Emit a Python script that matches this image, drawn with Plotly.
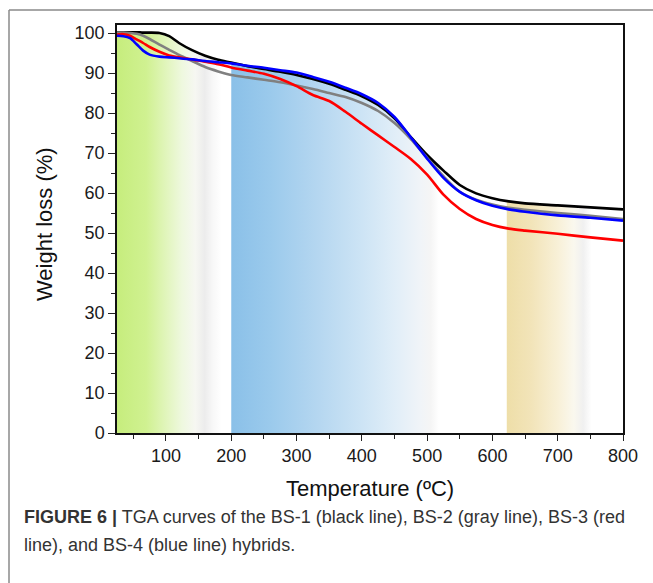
import numpy as np
import plotly.graph_objects as go

# ---------------- data ----------------
temperature = [25, 35, 45, 55, 65, 75, 90, 105, 120, 140, 160, 180, 200, 225, 250,
               275, 300, 325, 350, 375, 400, 425, 450, 475, 500, 525, 550, 575,
               600, 625, 650, 700, 750, 800]

bs1_black = [100.2, 100.2, 100.2, 100.2, 100.1, 100.1, 100.0, 99.2, 97.5, 95.7, 94.3,
             93.3, 92.6, 91.7, 91.0, 90.3, 89.5, 88.5, 87.3, 85.8, 84.2, 82.0, 78.7,
             74.0, 69.5, 65.6, 62.0, 59.9, 58.7, 57.9, 57.4, 56.9, 56.4, 55.9]

bs2_gray = [100.1, 100.1, 100.0, 99.8, 99.3, 98.5, 97.1, 95.8, 94.5, 93.0, 91.5,
            90.4, 89.5, 88.9, 88.3, 87.7, 86.9, 86.0, 85.0, 84.0, 82.5, 80.5, 77.5,
            73.5, 68.8, 64.2, 60.3, 58.3, 57.1, 56.3, 55.8, 55.0, 54.3, 53.5]

bs3_red = [99.6, 99.7, 99.3, 98.4, 97.5, 96.5, 95.3, 94.4, 93.9, 93.4, 92.8,
           92.2, 91.4, 90.6, 89.8, 88.5, 86.7, 84.5, 83.0, 80.3, 77.3, 74.4, 71.5,
           68.5, 64.6, 59.6, 56.0, 53.5, 52.0, 51.1, 50.6, 49.8, 48.9, 48.1]

bs4_blue = [99.3, 99.2, 98.7, 97.2, 95.6, 94.6, 94.1, 93.9, 93.7, 93.4, 93.0,
            92.7, 92.4, 91.8, 91.3, 90.7, 90.1, 89.0, 87.8, 86.3, 84.7, 82.5, 79.0,
            73.9, 68.6, 63.8, 60.3, 58.2, 56.8, 55.9, 55.3, 54.4, 53.8, 53.1]

x_tick_vals = [100, 200, 300, 400, 500, 600, 700, 800]
y_tick_vals = [0, 10, 20, 30, 40, 50, 60, 70, 80, 90, 100]

# shaded temperature bands (start, end) and their gradient colours
bands = [
    (25, 185, [[0.0, "rgb(198,237,125)"], [0.28, "rgb(208,241,145)"],
               [0.47, "rgb(225,245,188)"], [0.62, "rgb(238,248,222)"],
               [0.75, "rgb(246,247,242)"], [0.84, "rgb(236,236,236)"],
               [0.92, "rgb(248,248,248)"], [1.0, "rgb(255,255,255)"]]),
    (200, 518, [[0.0, "rgb(138,192,232)"], [0.19, "rgb(155,202,236)"],
                [0.41, "rgb(180,214,240)"], [0.63, "rgb(205,228,245)"],
                [0.79, "rgb(225,238,248)"], [0.91, "rgb(240,244,248)"],
                [0.96, "rgb(245,245,245)"], [1.0, "rgb(255,255,255)"]]),
    (622, 752, [[0.0, "rgb(238,222,168)"], [0.29, "rgb(242,228,185)"],
                [0.6, "rgb(248,240,215)"], [0.79, "rgb(250,248,238)"],
                [0.9, "rgb(240,240,240)"], [1.0, "rgb(255,255,255)"]]),
]

series = [
    ("BS-1", bs1_black, "#000000"),
    ("BS-2", bs2_gray, "#808080"),
    ("BS-3", bs3_red, "#ff0000"),
    ("BS-4", bs4_blue, "#0000ff"),
]

# ---------------- figure ----------------
W, H = 653, 583
L, R, T, B = 117, 30, 25, 150
pw, ph = W - L - R, H - T - B

fig = go.Figure()

temps = np.array(temperature, dtype=float)
envelope = np.max(np.vstack([bs1_black, bs2_gray, bs3_red, bs4_blue]), axis=0)

for (t0, t1, cs) in bands:
    mask = (temps > t0) & (temps < t1)
    xs = np.concatenate([[t0], temps[mask], [t1]])
    ys = np.interp(xs, temps, envelope)
    fig.add_trace(go.Scatter(
        x=xs, y=ys, mode="lines", line=dict(width=0, shape="spline"),
        fill="tozeroy",
        fillgradient=dict(type="horizontal", colorscale=cs, start=t0, stop=t1),
        hoverinfo="skip", showlegend=False))

for name, vals, col in series:
    fig.add_trace(go.Scatter(
        x=temperature, y=vals, mode="lines", name=name,
        line=dict(color=col, width=2.6, shape="spline", smoothing=0.8),
        showlegend=False))

tick_font = dict(family="Arial, Liberation Sans, sans-serif", size=18, color="#1a1a1a")

fig.update_xaxes(
    range=[25, 800], tickvals=x_tick_vals, ticks="outside", ticklen=6, tickwidth=1.3,
    tickcolor="#222", tickfont=tick_font, showline=True, linecolor="#111",
    linewidth=1.5, mirror=True, showgrid=False, zeroline=False,
    minor=dict(tickvals=[50, 150, 250, 350, 450, 550, 650, 750], ticks="outside",
               ticklen=4, tickwidth=1.2, tickcolor="#222", showgrid=False))
fig.update_yaxes(
    range=[0, 102], tickvals=y_tick_vals, ticks="outside", ticklen=7, tickwidth=1.3,
    tickcolor="#222", tickfont=tick_font, showline=True, linecolor="#111",
    linewidth=1.5, mirror=True, showgrid=False, zeroline=False,
    minor=dict(tickvals=[5, 15, 25, 35, 45, 55, 65, 75, 85, 95], ticks="outside",
               ticklen=4, tickwidth=1.2, tickcolor="#222", showgrid=False))

def px2paper_x(px):
    return (px - L) / pw

def px2paper_y(py):
    return (H - B - py) / ph

title_font = dict(family="Arial, Liberation Sans, sans-serif", size=22, color="#111")
cap_font = dict(family="Arial, Liberation Sans, sans-serif", size=18, color="#333")
annotations = [
    dict(text="Temperature (ºC)", x=0.5, y=px2paper_y(488), xref="paper", yref="paper",
         showarrow=False, font=title_font, xanchor="center", yanchor="middle"),
    dict(text="Weight loss (%)", x=px2paper_x(44), y=px2paper_y(224), xref="paper",
         yref="paper", showarrow=False, font=title_font, textangle=-90,
         xanchor="center", yanchor="middle"),
    dict(text="<b>FIGURE 6 |</b> TGA curves of the BS-1 (black line), BS-2 (gray line), BS-3 (red",
         x=px2paper_x(22), y=px2paper_y(517), xref="paper", yref="paper",
         showarrow=False, xanchor="left", yanchor="middle", align="left", font=cap_font),
    dict(text="line), and BS-4 (blue line) hybrids.",
         x=px2paper_x(22), y=px2paper_y(545), xref="paper", yref="paper",
         showarrow=False, xanchor="left", yanchor="middle", align="left", font=cap_font),
]

shapes = [
    dict(type="line", xref="paper", yref="paper", x0=px2paper_x(9), x1=px2paper_x(660),
         y0=px2paper_y(10), y1=px2paper_y(10), line=dict(color="#8a8a8a", width=1.5)),
    dict(type="line", xref="paper", yref="paper", x0=px2paper_x(9), x1=px2paper_x(9),
         y0=px2paper_y(10), y1=px2paper_y(600), line=dict(color="#8a8a8a", width=1.5)),
]

fig.update_layout(
    width=W, height=H, margin=dict(l=L, r=R, t=T, b=B, autoexpand=False),
    paper_bgcolor="white", plot_bgcolor="white",
    annotations=annotations, shapes=shapes, showlegend=False)

fig.write_html("out.html", config={"displayModeBar": False},
               post_script="document.body.style.margin='0';document.body.style.overflow='hidden';")
